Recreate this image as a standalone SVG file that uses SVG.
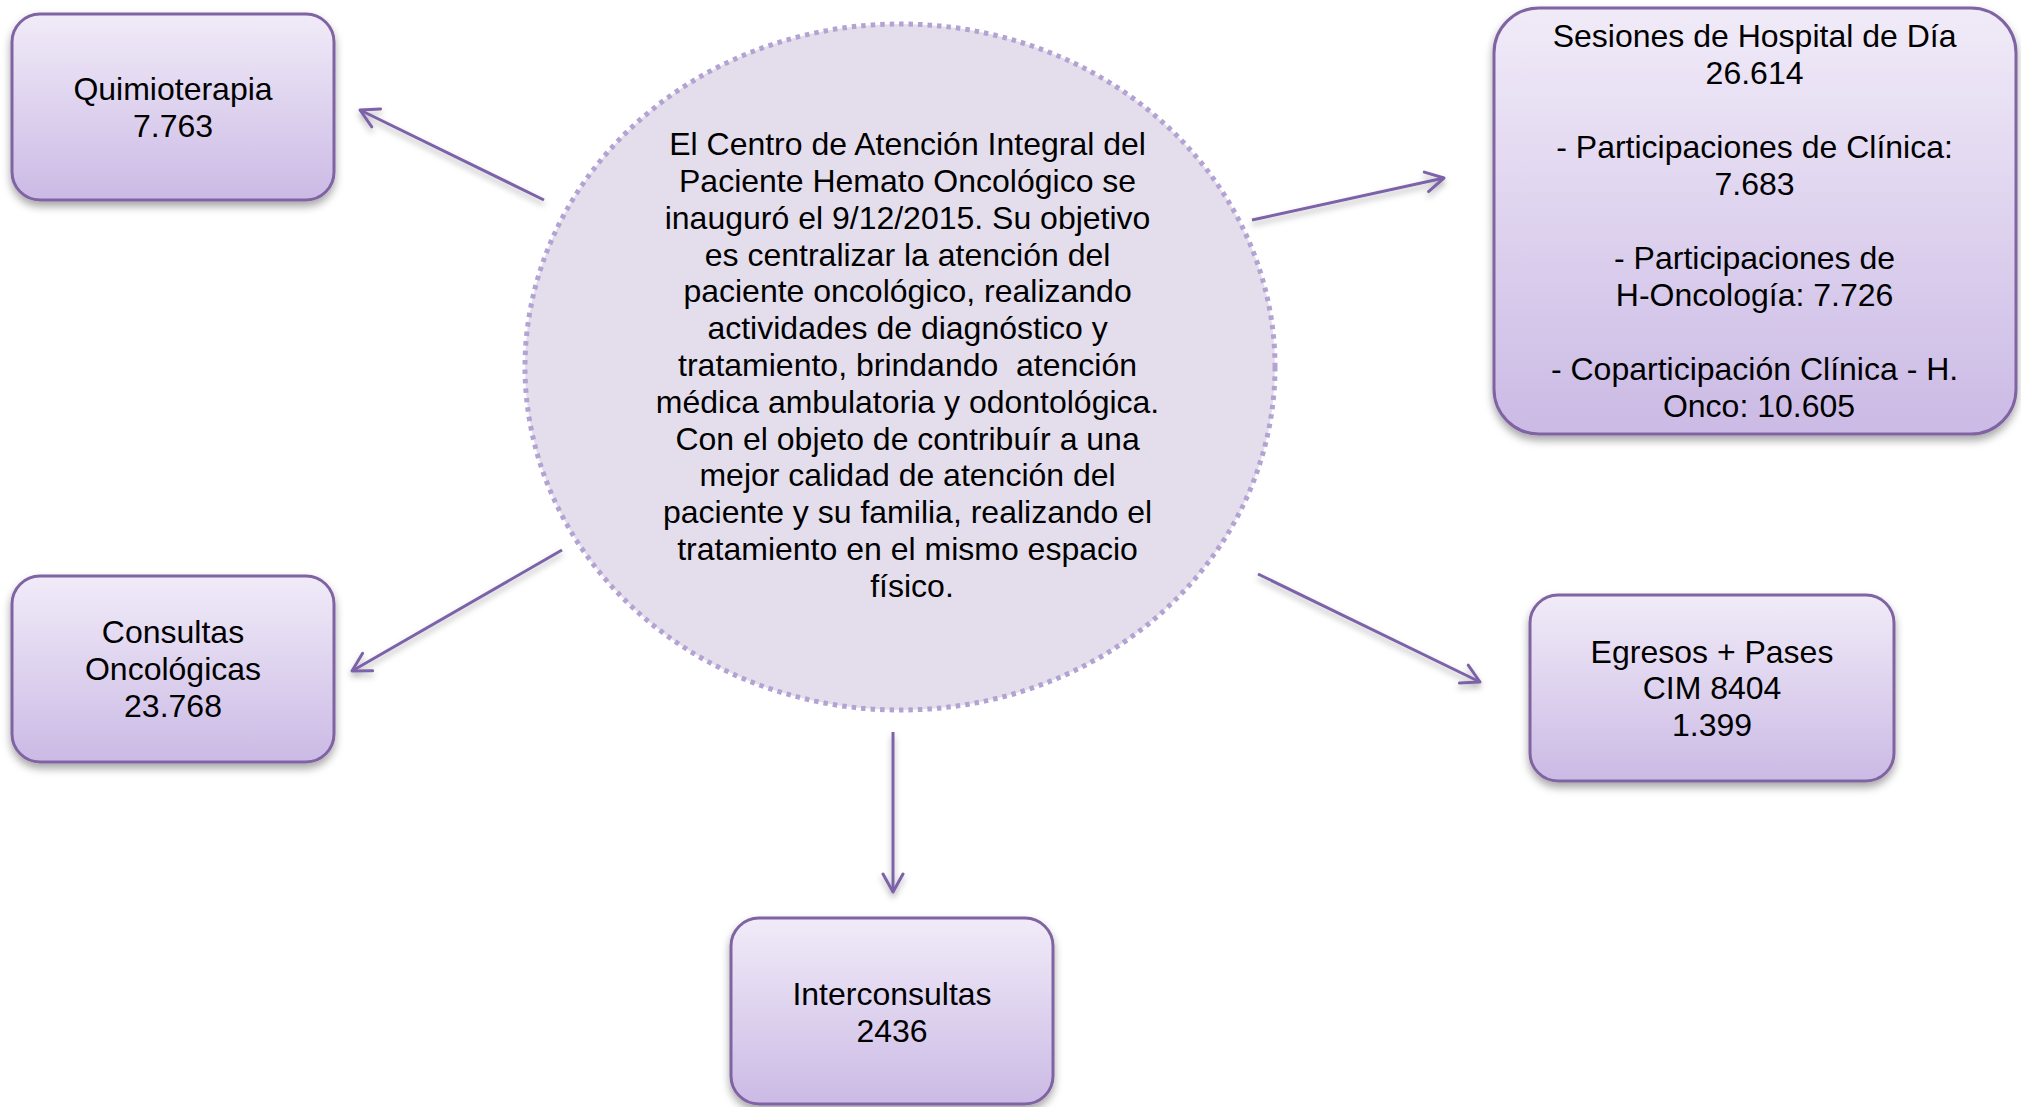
<svg xmlns="http://www.w3.org/2000/svg" width="2021" height="1107" viewBox="0 0 2021 1107">
<defs>
<linearGradient id="boxGrad" x1="0" y1="0" x2="0" y2="1">
<stop offset="0" stop-color="#F1EBF8"/>
<stop offset="1" stop-color="#CBBAE5"/>
</linearGradient>
<filter id="shadow" x="-10%" y="-10%" width="120%" height="130%">
<feDropShadow dx="0" dy="5" stdDeviation="4" flood-color="#000" flood-opacity="0.35"/>
</filter>
<filter id="lshadow" filterUnits="userSpaceOnUse" x="0" y="0" width="2021" height="1107">
<feDropShadow dx="0" dy="4" stdDeviation="3" flood-color="#000" flood-opacity="0.3"/>
</filter>
<marker id="arrow" markerUnits="userSpaceOnUse" markerWidth="24" markerHeight="24" viewBox="0 0 24 24" refX="21" refY="12" orient="auto">
<path d="M3,2 L21,12 L3,22" fill="none" stroke="#7C62A8" stroke-width="3" stroke-linecap="round" stroke-linejoin="round"/>
</marker>
</defs>
<style>
.box{fill:url(#boxGrad);stroke:#8064A2;stroke-width:3;filter:url(#shadow)}
.t{font-family:"Liberation Sans",Arial,sans-serif;font-size:32px;fill:#000;text-anchor:middle}
.conn{stroke:#7C62A8;stroke-width:3;fill:none;marker-end:url(#arrow)}
</style>
<rect width="2021" height="1107" fill="#FFFFFF"/>

<g id="connectors" filter="url(#lshadow)">
<line class="conn" x1="544" y1="200" x2="360" y2="110"/>
<line class="conn" x1="1252" y1="220" x2="1444" y2="178"/>
<line class="conn" x1="562" y1="550" x2="352" y2="671"/>
<line class="conn" x1="1258" y1="574" x2="1480" y2="682"/>
<line class="conn" x1="893" y1="732" x2="893" y2="892"/>
</g>

<g id="center">
<ellipse cx="900" cy="367" rx="375" ry="343" fill="#E4DEEC" stroke="#B3A3D3" stroke-width="5" stroke-dasharray="4.5 5"/>
<text class="t">
<tspan x="912" y="155">El Centro de Atención Integral del</tspan>
<tspan x="912" y="192">Paciente Hemato Oncológico se</tspan>
<tspan x="912" y="229">inauguró el 9/12/2015. Su objetivo</tspan>
<tspan x="912" y="266">es centralizar la atención del</tspan>
<tspan x="912" y="302">paciente oncológico, realizando</tspan>
<tspan x="912" y="339">actividades de diagnóstico y</tspan>
<tspan x="912" y="376" xml:space="preserve">tratamiento, brindando  atención</tspan>
<tspan x="912" y="413">médica ambulatoria y odontológica.</tspan>
<tspan x="912" y="450">Con el objeto de contribuír a una</tspan>
<tspan x="912" y="486">mejor calidad de atención del</tspan>
<tspan x="912" y="523">paciente y su familia, realizando el</tspan>
<tspan x="912" y="560">tratamiento en el mismo espacio</tspan>
<tspan x="912" y="597">físico.</tspan>
</text>
</g>

<g id="quimioterapia">
<rect class="box" x="12" y="14" width="322" height="186" rx="28"/>
<text class="t"><tspan x="173" y="100">Quimioterapia</tspan><tspan x="173" y="137">7.763</tspan></text>
</g>

<g id="consultas">
<rect class="box" x="12" y="576" width="322" height="186" rx="28"/>
<text class="t"><tspan x="173" y="643">Consultas</tspan><tspan x="173" y="680">Oncológicas</tspan><tspan x="173" y="717">23.768</tspan></text>
</g>

<g id="interconsultas">
<rect class="box" x="731" y="918" width="322" height="186" rx="28"/>
<text class="t"><tspan x="892" y="1005">Interconsultas</tspan><tspan x="892" y="1042">2436</tspan></text>
</g>

<g id="sesiones">
<rect class="box" x="1494" y="8" width="522" height="426" rx="45"/>
<text class="t">
<tspan x="1759" y="47">Sesiones de Hospital de Día</tspan>
<tspan x="1759" y="84">26.614</tspan>
<tspan x="1759" y="158">- Participaciones de Clínica:</tspan>
<tspan x="1759" y="195">7.683</tspan>
<tspan x="1759" y="269">- Participaciones de</tspan>
<tspan x="1759" y="306">H-Oncología: 7.726</tspan>
<tspan x="1759" y="380">- Coparticipación Clínica - H.</tspan>
<tspan x="1759" y="417">Onco: 10.605</tspan>
</text>
</g>

<g id="egresos">
<rect class="box" x="1530" y="595" width="364" height="186" rx="28"/>
<text class="t"><tspan x="1712" y="663">Egresos + Pases</tspan><tspan x="1712" y="699">CIM 8404</tspan><tspan x="1712" y="736">1.399</tspan></text>
</g>
</svg>
